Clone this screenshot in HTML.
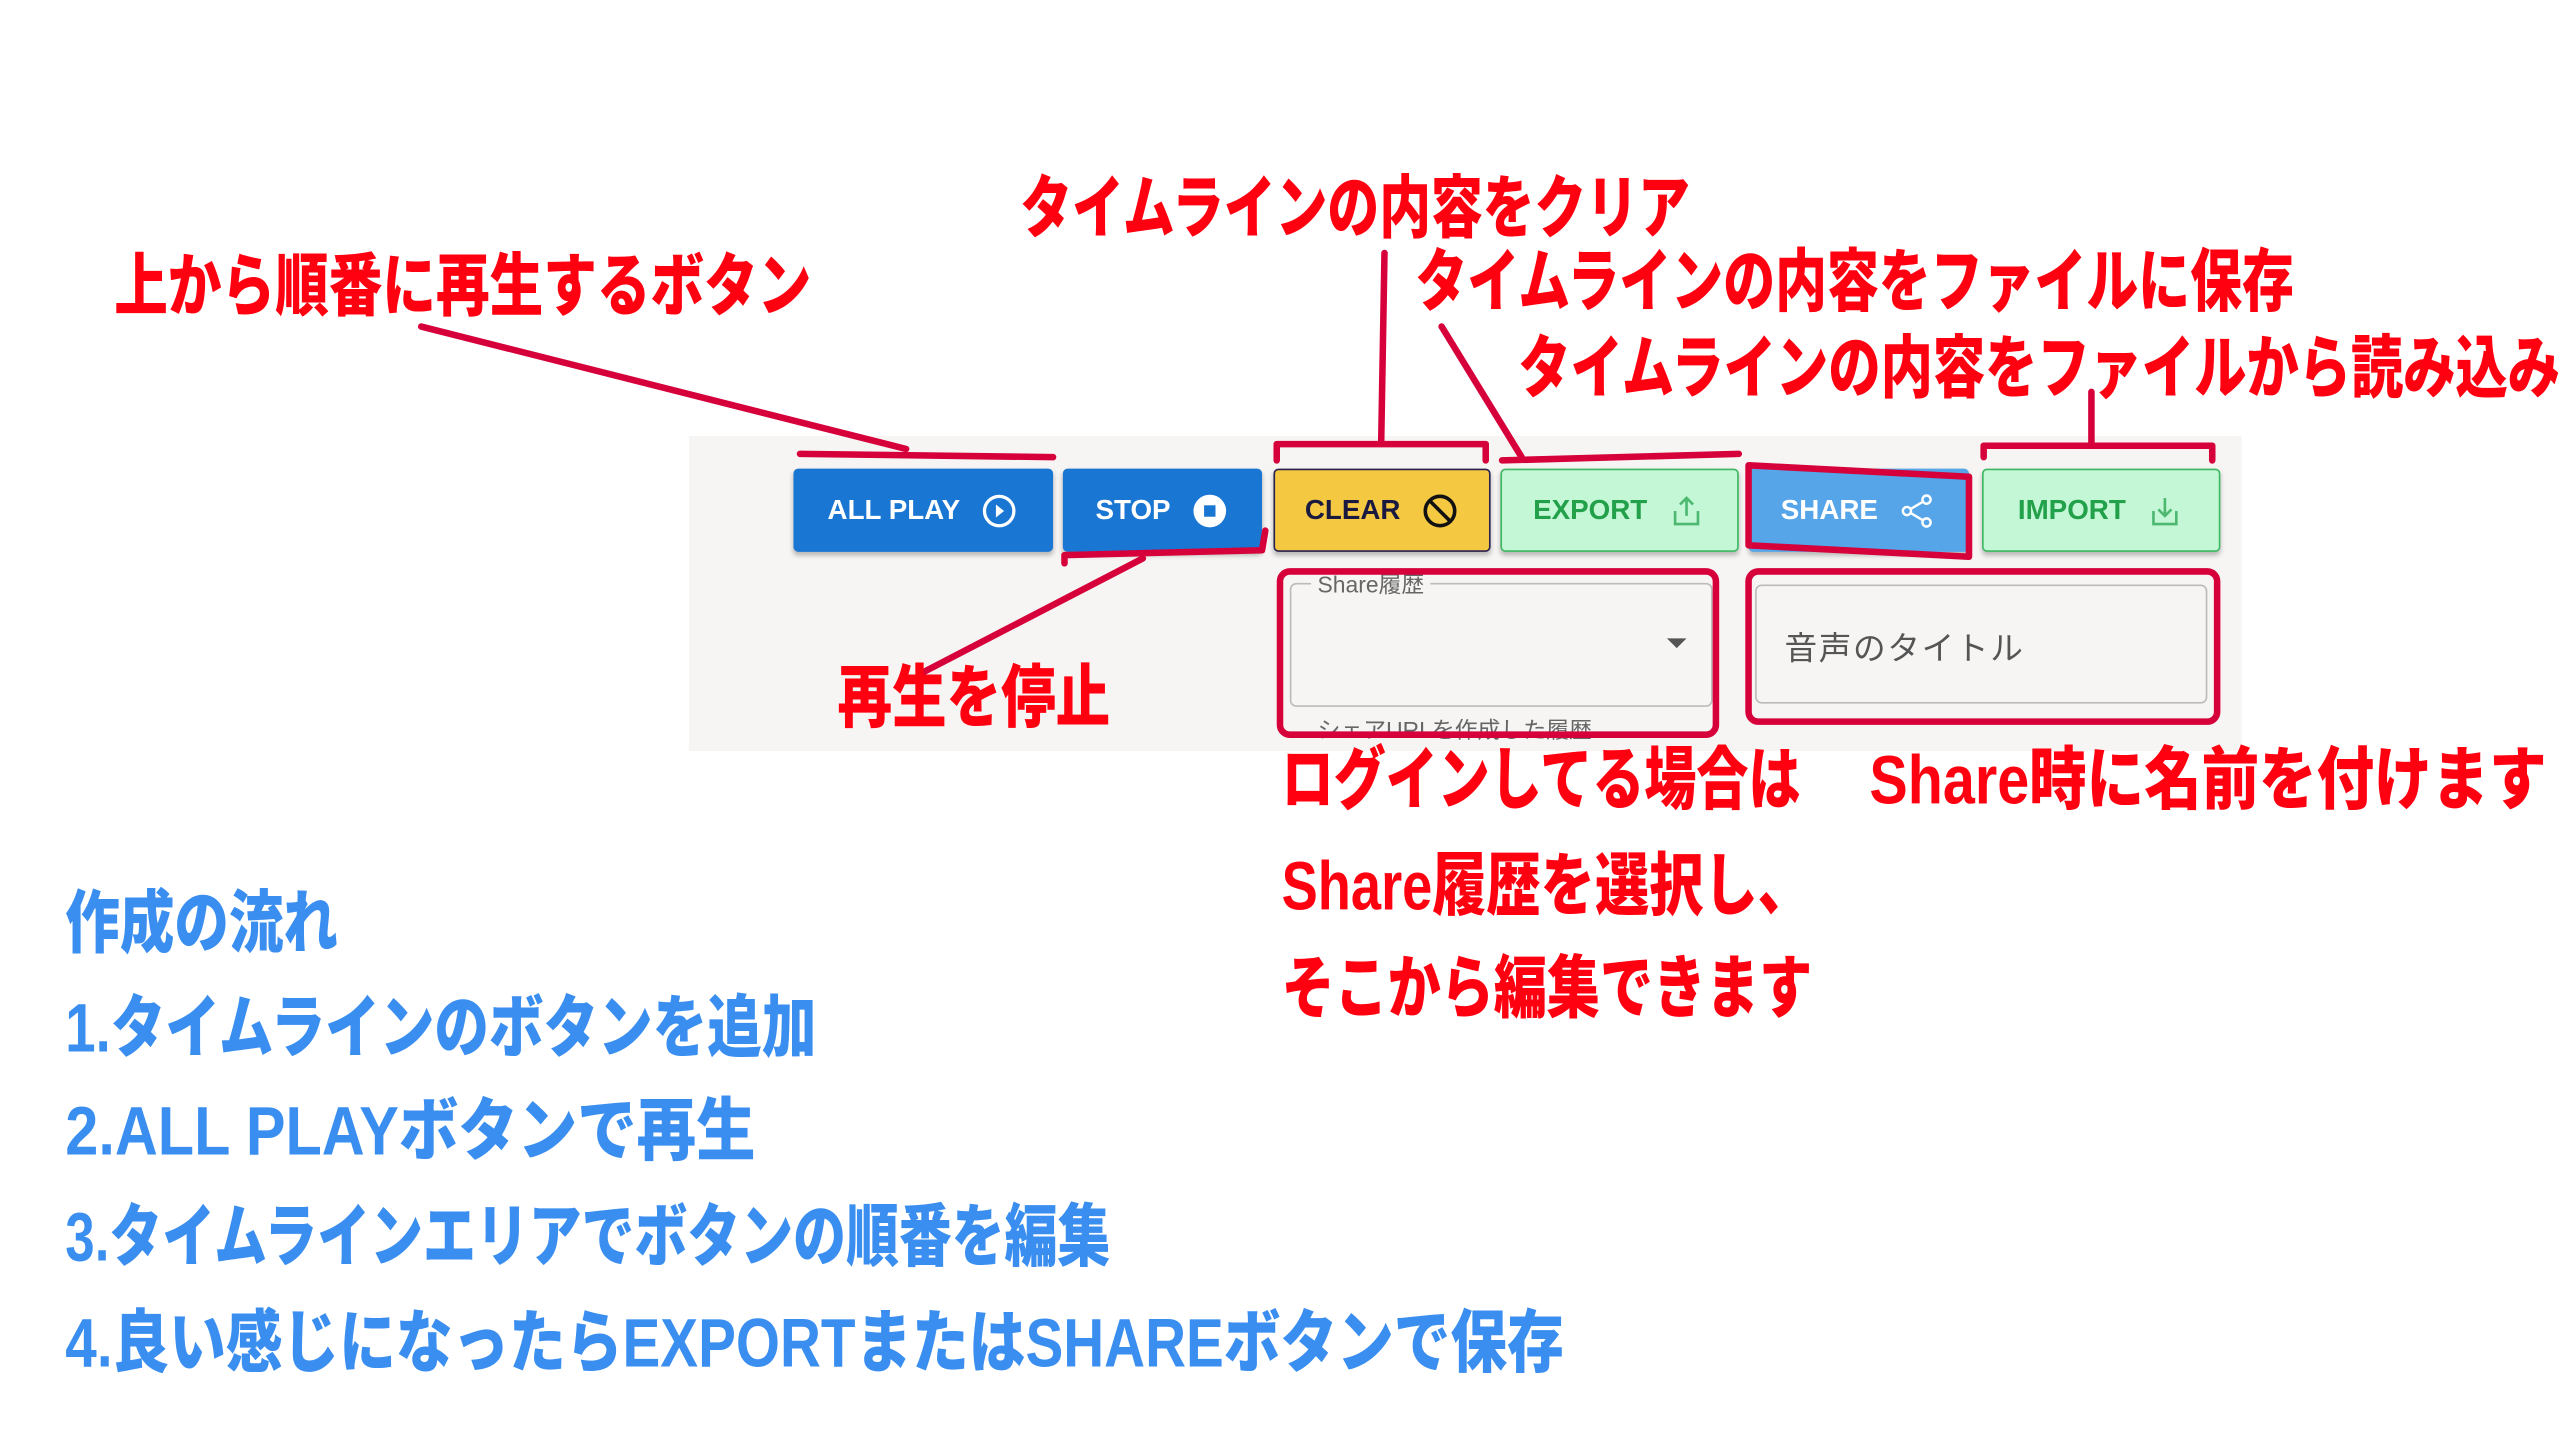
<!DOCTYPE html>
<html><head><meta charset="utf-8">
<style>
html,body{margin:0;padding:0;background:#fff;width:2560px;height:1440px;overflow:hidden}
#w{position:absolute;left:0;top:0;width:1568px;height:882px;transform:scale(1.63265);transform-origin:0 0}
.t{position:absolute;white-space:nowrap;font-family:"Liberation Sans","Noto Sans CJK JP",sans-serif;font-weight:900;transform-origin:0 0;line-height:1;margin-top:-3px}
.r{color:#ff0010;font-size:42px}
.b{color:#3a8ef0;font-size:42px}
.btn{position:absolute;top:287px;height:51px;border-radius:3px;box-sizing:border-box;font-family:"Liberation Sans",sans-serif;font-weight:bold;font-size:17px;display:flex;align-items:center;justify-content:center;gap:12px;box-shadow:0 2px 3px rgba(0,0,0,.25)}
.btn svg{width:24px;height:24px}
.f{position:absolute;font-family:"Liberation Sans","Noto Sans CJK JP",sans-serif;color:#666}
</style></head><body>
<div id="w">
<div style="position:absolute;left:422px;top:267px;width:951px;height:193px;background:#f7f5f3"></div>

<div class="btn" style="left:486px;width:159px;background:#1976d2;color:#fff">ALL PLAY
<svg viewBox="0 0 24 24"><circle cx="12" cy="12" r="9" fill="none" stroke="#fff" stroke-width="2"/><path d="M10 8l5 4-5 4z" fill="#fff"/></svg></div>
<div class="btn" style="left:651px;width:122px;background:#1976d2;color:#fff">STOP
<svg viewBox="0 0 24 24"><circle cx="12" cy="12" r="10" fill="#fff"/><rect x="8.5" y="8.5" width="7" height="7" fill="#1976d2"/></svg></div>
<div class="btn" style="left:780px;width:133px;background:#f5c842;color:#1a1a40;border:1.5px solid #2a2050">CLEAR
<svg viewBox="0 0 24 24"><circle cx="12" cy="12" r="9" fill="none" stroke="#111" stroke-width="2.2"/><path d="M6 6l12 12" stroke="#111" stroke-width="2.2"/></svg></div>
<div class="btn" style="left:919px;width:146px;background:#c3f7d6;color:#22a04a;border:1.5px solid #3cb860">EXPORT
<svg viewBox="0 0 24 24" fill="none" stroke="#4cb870" stroke-width="1.6"><path d="M12 15V4M8 8l4-4 4 4M5 12v8h14v-8"/></svg></div>
<div class="btn" style="left:1071px;width:135px;background:#55a5e8;color:#fff">SHARE
<svg viewBox="0 0 24 24" fill="none" stroke="#fff" stroke-width="1.5"><circle cx="18" cy="5" r="2.5"/><circle cx="6" cy="12" r="2.5"/><circle cx="18" cy="19" r="2.5"/><path d="M8.2 10.8l7.6-4.5M8.2 13.2l7.6 4.5"/></svg></div>
<div class="btn" style="left:1214px;width:146px;background:#c3f7d6;color:#22a04a;border:1.5px solid #3cb860">IMPORT
<svg viewBox="0 0 24 24" fill="none" stroke="#4cb870" stroke-width="1.6"><path d="M12 4v11M8 11l4 4 4-4M5 12v8h14v-8"/></svg></div>

<div style="position:absolute;left:790px;top:357px;width:257px;height:74px;border:1px solid #bbb;border-radius:4px"></div>
<div class="f" style="left:803px;top:348px;font-size:14px;background:#f7f5f3;padding:0 4px">Share履歴</div>
<div style="position:absolute;left:1021px;top:391px;border-left:6px solid transparent;border-right:6px solid transparent;border-top:6px solid #555"></div>
<div class="f" style="left:807px;top:437px;font-size:14px">シェアURLを作成した履歴</div>
<div style="position:absolute;left:1075px;top:358px;width:275px;height:71px;border:1px solid #bbb;border-radius:4px"></div>
<div class="f" style="left:1093px;top:381px;font-size:20px;color:#555;letter-spacing:1px">音声のタイトル</div>

<svg style="position:absolute;left:0;top:0" width="1568" height="882" fill="none" stroke="#d6003a" stroke-width="4" stroke-linecap="round" stroke-linejoin="round">
<path d="M258 200L555 275"/><path d="M490 278L645 280"/>
<path d="M848 155L846 270"/><path d="M782 282V272H910V282"/>
<path d="M883 200L932 280"/><path d="M920 282L1065 278"/>
<path d="M1071 285L1206 292V341L1071 334Z"/>
<path d="M1281 240V272"/><path d="M1215 280V273H1355V282"/>
<path d="M652 345L652 340L773 337L775 325"/><path d="M700 342L565 412"/>
<rect x="784" y="350" width="267" height="100" rx="6"/>
<rect x="1071" y="350" width="287" height="92" rx="6"/>
</svg>

<div class="t r" data-w="427" style="left:70px;top:158px">上から順番に再生するボタン</div>
<div class="t r" data-w="410" style="left:625px;top:110px">タイムラインの内容をクリア</div>
<div class="t r" data-w="538" style="left:867px;top:155px">タイムラインの内容をファイルに保存</div>
<div class="t r" data-w="638" style="left:930px;top:208px">タイムラインの内容をファイルから読み込み</div>
<div class="t r" data-w="167" style="left:513px;top:410px">再生を停止</div>
<div class="t r" data-w="318" style="left:785px;top:460px">ログインしてる場合は</div>
<div class="t r" data-w="415" style="left:1145px;top:460px">Share時に名前を付けます</div>
<div class="t r" data-w="325" style="left:785px;top:525px">Share履歴を選択し、</div>
<div class="t r" data-w="325" style="left:785px;top:588px">そこから編集できます</div>
<div class="t b" data-w="167" style="left:40px;top:548px">作成の流れ</div>
<div class="t b" data-w="460" style="left:40px;top:612px">1.タイムラインのボタンを追加</div>
<div class="t b" data-w="423" style="left:40px;top:675px">2.ALL PLAYボタンで再生</div>
<div class="t b" data-w="640" style="left:40px;top:740px">3.タイムラインエリアでボタンの順番を編集</div>
<div class="t b" data-w="918" style="left:40px;top:805px">4.良い感じになったらEXPORTまたはSHAREボタンで保存</div>
</div>
<script>
document.querySelectorAll('.t').forEach(function(e){var w=+e.getAttribute('data-w');var a=e.offsetWidth;if(a>0)e.style.transform='scaleX('+(w/a)+')';});
</script>
</body></html>
